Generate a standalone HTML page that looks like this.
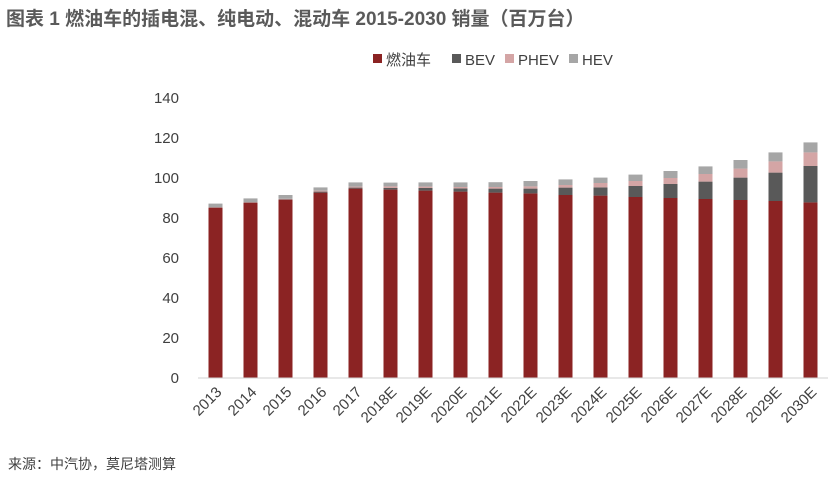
<!DOCTYPE html>
<html><head><meta charset="utf-8"><style>
body{margin:0;background:#fff;font-family:"Liberation Sans","Noto Sans CJK SC",sans-serif;}
#wrap{position:relative;width:834px;height:477px;overflow:hidden}
</style></head><body>
<div id="wrap">
<svg id="chart" width="834" height="477">
<text x="6" y="25" font-size="19" font-weight="bold" fill="#5a5a5a" font-family="Liberation Sans,Noto Sans CJK SC,sans-serif">图表 1 燃油车的插电混、纯电动、混动车 2015-2030 销量（百万台）</text>
<g font-size="15" fill="#404040">
<g><rect x="373" y="54" width="9" height="9" fill="#8b2323"/><text x="386" y="65">燃油车</text></g>
<g><rect x="452" y="54" width="9" height="9" fill="#595959"/><text x="465" y="65">BEV</text></g>
<g><rect x="505" y="54" width="9" height="9" fill="#d4a5a5"/><text x="518" y="65">PHEV</text></g>
<g><rect x="569" y="54" width="9" height="9" fill="#a6a6a6"/><text x="582" y="65">HEV</text></g>
</g>
<g id="plot"></g>
<text x="8" y="469" font-size="14" fill="#404040">来源：中汽协，莫尼塔测算</text>
</svg>
</div>
<script>
const categories=["2013","2014","2015","2016","2017","2018E","2019E","2020E","2021E","2022E","2023E","2024E","2025E","2026E","2027E","2028E","2029E","2030E"];
const iceValues=[85.2,87.7,89.2,92.7,94.7,94.2,93.7,93.2,92.7,92.3,91.5,91.2,90.5,90,89.5,89,88.5,87.8];
const bevValues=[0.1,0.1,0.2,0.5,0.5,0.8,1.3,1.6,2.0,2.4,3.7,4.1,5.5,7.0,8.7,11.2,14.2,18.2];
const phevValues=[0.1,0.1,0.2,0.5,0.5,0.8,0.7,0.7,0.8,1.1,1.3,2.2,2.5,3.0,3.8,4.5,5.6,6.8];
const hevValues=[1.8,1.9,1.9,1.6,2.1,1.9,2.1,2.3,2.4,2.7,2.8,2.7,3.2,3.5,3.8,4.3,4.5,5.0];
const yTicks=[0,20,40,60,80,100,120,140];
const series=[["ice",iceValues,"#8b2323"],["bev",bevValues,"#595959"],["phev",phevValues,"#d4a5a5"],["hev",hevValues,"#a6a6a6"]];
const NS="http://www.w3.org/2000/svg";
const g=document.getElementById('plot');
const x0=198,x1=828,yBase=378,yTop=98,yMax=140;
const step=(x1-x0)/categories.length, bw=14;
const yS=v=>yBase-(v/yMax)*(yBase-yTop);
const xC=i=>x0+step*(i+0.5);
function mk(t,a){const e=document.createElementNS(NS,t);for(const k in a)e.setAttribute(k,a[k]);g.appendChild(e);return e;}
yTicks.forEach(t=>{const e=mk('text',{x:179,y:yS(t)+5,'text-anchor':'end','font-size':15,fill:'#404040'});e.textContent=t;

});
categories.forEach((c,i)=>{let acc=0;
series.forEach(s=>{const v=s[1][i];const r=mk('rect',{x:xC(i)-bw/2,y:yS(acc+v),width:bw,height:yS(acc)-yS(acc+v),fill:s[2]});


acc+=v;});
const tx=xC(i)+7,ty=yBase+15;
const e=mk('text',{x:tx,y:ty,'text-anchor':'end','font-size':15,fill:'#404040',transform:`rotate(-45 ${tx} ${ty})`});e.textContent=c;

});
const ax=mk('line',{x1:x0,x2:x1,y1:yBase,y2:yBase,stroke:'#d0d0d0','stroke-width':1});


</script>
</body></html>
